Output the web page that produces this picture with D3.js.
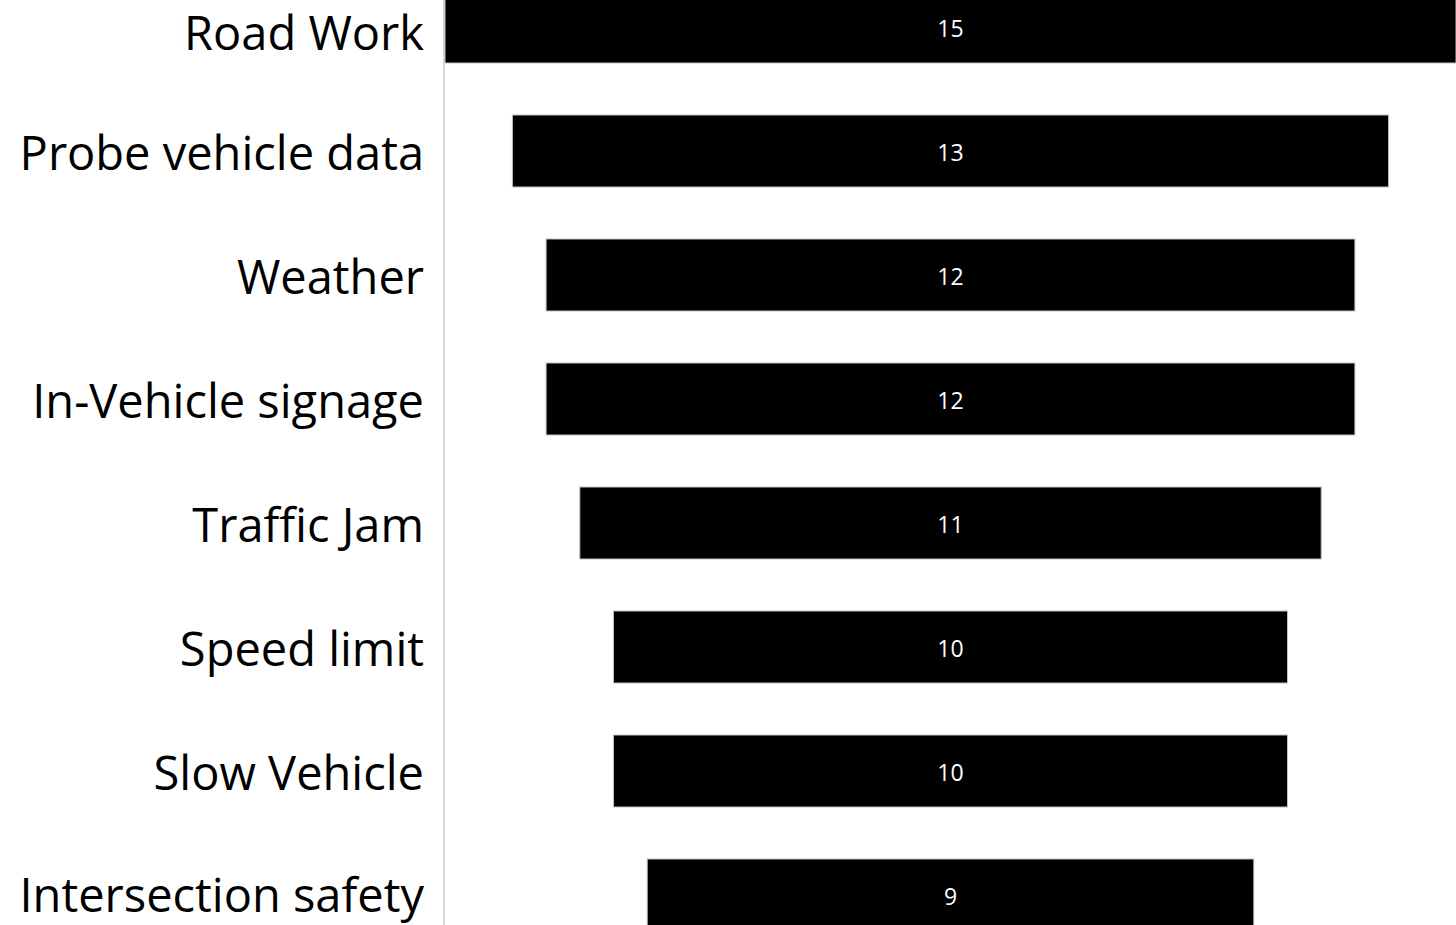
<!DOCTYPE html>
<html><head><meta charset="utf-8">
<script src="https://cdn.jsdelivr.net/npm/d3@7"></script>
<style>body{margin:0;background:#fff;overflow:hidden}</style>
</head><body>
<svg id="c" width="1456" height="925"></svg>
<script>
const categories = ["Road Work","Probe vehicle data","Weather","In-Vehicle signage","Traffic Jam","Speed limit","Slow Vehicle","Intersection safety"];
const values = [15,13,12,12,11,10,10,9];

const svg = d3.select("#c");
const W = 1456, H = 925;
const cx = 950.5;
const x = d3.scaleLinear().domain([0,15]).range([0,1011]);
const y = d3.scaleBand().domain(categories).range([-35, -35 + 124*8]).paddingInner(52/124).paddingOuter(26/124);

svg.append("line").attr("x1",444).attr("x2",444).attr("y1",0).attr("y2",H)
  .attr("stroke","#d9d9d9").attr("stroke-width",2);

const g = svg.append("g");
g.selectAll("rect").data(categories).join("rect")
  .attr("x",(d,i)=>cx - x(values[i])/2)
  .attr("y",d=>y(d))
  .attr("width",(d,i)=>x(values[i]))
  .attr("height",y.bandwidth())
  .attr("fill","#000").attr("stroke","#bfbfbf").attr("stroke-width",1);

g.selectAll("text.v").data(categories).join("text").attr("class","v")
  .attr("x",cx).attr("y",d=>y(d)+y.bandwidth()/2+1)
  .attr("text-anchor","middle").attr("dominant-baseline","central")
  .attr("fill","#fff").attr("font-family","'Open Sans', sans-serif").attr("font-size",23)
  .text((d,i)=>values[i]);

g.selectAll("text.l").data(categories).join("text").attr("class","l")
  .attr("x",424).attr("y",(d,i)=>y(d)+y.bandwidth()/2+(i===0?5:(i===7?-1:1)))
  .attr("text-anchor","end").attr("dominant-baseline","central")
  .attr("fill","#000").attr("font-family","'Open Sans', sans-serif").attr("font-size",47)
  .text(d=>d);
</script>
</body></html>
